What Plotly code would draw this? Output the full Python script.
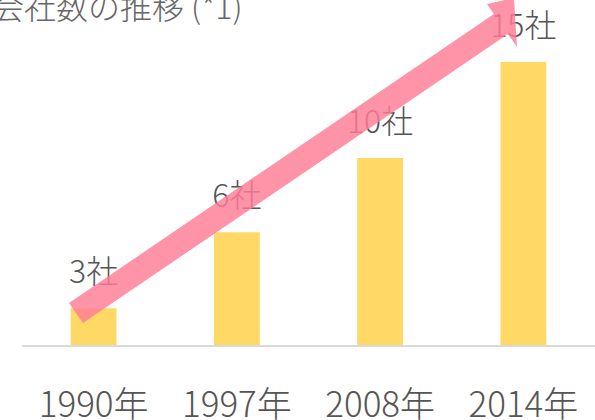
import plotly.graph_objects as go

# ---- data ----
years = ["1990年", "1997年", "2008年", "2014年"]
company_counts = [3, 6, 10, 15]
count_labels = ["3社", "6社", "10社", "15社"]
# bar heights as drawn (in company units; the first bar is drawn shorter)
bar_heights = [1.95, 6.0, 9.95, 15.05]
title_text = "会社数の推移 (*1)"

# ---- layout constants (pixels) ----
W, H = 595, 420
L, R, T, B = 22, 0, 0, 75
PW, PH = W - L - R, H - T - B
PX_PER_UNIT = 18.8
Y_MAX = PH / PX_PER_UNIT
LABEL_OFFSET = 33 / PX_PER_UNIT

BAR_COLOR = "#FFD865"
TEXT_COLOR = "#555555"
FONT = "Noto Sans CJK JP"


def px_to_paper(px, py):
    return ((px - L) / PW, (H - B - py) / PH)


# decorative arrow outline (pixel positions on the canvas)
arrow_px = [(69, 303), (494, 14), (487, 4), (514, -2), (517, 47), (508, 34), (83, 323)]
pts = [px_to_paper(x, y) for x, y in arrow_px]
arrow_path = "M " + " L ".join(f"{x:.4f},{y:.4f}" for x, y in pts) + " Z"

fig = go.Figure()
fig.add_trace(go.Bar(
    x=years, y=bar_heights, marker=dict(color=BAR_COLOR, line=dict(width=0)),
    hoverinfo="skip", showlegend=False,
))
fig.add_trace(go.Scatter(
    x=years, y=[h + LABEL_OFFSET for h in bar_heights], text=count_labels,
    mode="text", textposition="middle center",
    textfont=dict(family=FONT, size=32, color=TEXT_COLOR, weight=300),
    hoverinfo="skip", showlegend=False, cliponaxis=False,
))

fig.add_shape(
    type="path", xref="paper", yref="paper", path=arrow_path,
    fillcolor="rgba(255,125,150,0.82)", line=dict(width=0), layer="above",
)

tx, ty = px_to_paper(-10, 5)
fig.add_annotation(
    text=title_text, xref="paper", yref="paper", x=tx, y=ty,
    xanchor="left", yanchor="middle", showarrow=False,
    font=dict(family=FONT, size=32, color="#666666", weight=300),
)

fig.update_layout(
    width=W, height=H, margin=dict(l=L, r=R, t=T, b=B, autoexpand=False),
    paper_bgcolor="white", plot_bgcolor="white",
    bargap=0.68,
    xaxis=dict(
        showline=True, linecolor="#d9d9d9", linewidth=2, showgrid=False,
        ticks="", ticklabelstandoff=28, automargin=False,
        tickfont=dict(family=FONT, size=35, color=TEXT_COLOR, weight=300),
    ),
    yaxis=dict(range=[0, Y_MAX], visible=False, showgrid=False, zeroline=False,
               automargin=False),
    font=dict(family=FONT),
)

fig.write_html(
    "out.html",
    config={"displayModeBar": False},
    post_script="document.body.style.margin='0';document.body.style.padding='0';",
)
